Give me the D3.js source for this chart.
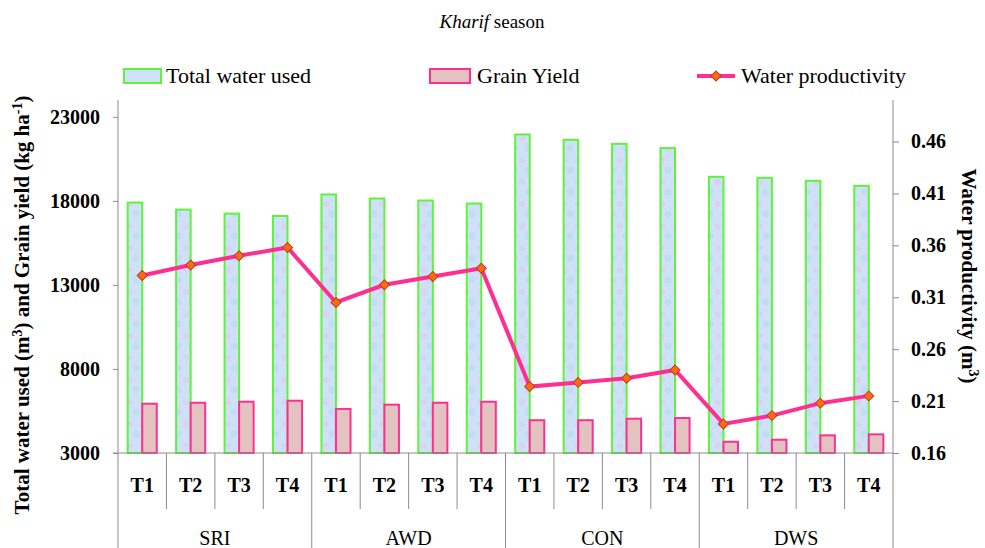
<!DOCTYPE html>
<html>
<head>
<meta charset="utf-8">
<script src="https://cdn.jsdelivr.net/npm/d3@7"></script>
<style>
  body { margin: 0; background: #fff; }
</style>
</head>
<body>
<div id="chart"></div>
<script>
// values
const groups = ["SRI", "AWD", "CON", "DWS"];
const treatments = ["T1", "T2", "T3", "T4"];
const waterUsed = [17900, 17480, 17240, 17100, 18380, 18140, 18020, 17840,
                   21950, 21630, 21390, 21140, 19430, 19370, 19190, 18890];
const grainYield = [5930, 5990, 6050, 6110, 5620, 5875, 5990, 6050,
                    4950, 4950, 5040, 5080, 3670, 3790, 4050, 4110];
const waterProductivity = [0.331, 0.341, 0.350, 0.358, 0.305, 0.322, 0.330, 0.338,
                           0.224, 0.228, 0.232, 0.240, 0.188, 0.196, 0.208, 0.215];
const leftTicks = [3000, 8000, 13000, 18000, 23000];
const rightTicks = [0.16, 0.21, 0.26, 0.31, 0.36, 0.41, 0.46];

const width = 985, height = 548;
const plotLeft = 118, plotRight = 893, plotTop = 100, base = 453;
const serif = "'Liberation Serif', 'Times New Roman', serif";

// one row per bar cluster
const rows = [];
groups.forEach((g, gi) => treatments.forEach((t, ti) => {
  const i = gi * treatments.length + ti;
  rows.push({ key: g + "-" + t, group: g, t: t, water: waterUsed[i], grain: grainYield[i], wp: waterProductivity[i] });
}));

const svg = d3.select("#chart").append("svg")
  .attr("width", width)
  .attr("height", height)
  .style("font-family", serif);

// faint mottled fill like the original bar texture
const defs = svg.append("defs");
const pat = defs.append("pattern").attr("id", "waterFill")
  .attr("patternUnits", "userSpaceOnUse").attr("width", 14).attr("height", 22);
pat.append("rect").attr("width", 14).attr("height", 22).attr("fill", "#cfe1f7");
pat.append("circle").attr("cx", 4).attr("cy", 6).attr("r", 3).attr("fill", "#d9d3f3");
pat.append("circle").attr("cx", 10).attr("cy", 16).attr("r", 3.5).attr("fill", "#c4dbf5");

const x = d3.scaleBand().domain(rows.map(d => d.key)).range([plotLeft, plotRight]).padding(0);
const bw = x.bandwidth();
const x1 = d3.scaleBand().domain(["water", "grain"]).range([bw * 0.2, bw * 0.8]).padding(0);
const yL = d3.scaleLinear().domain([3000, 24000]).range([base, plotTop]);
const yR = d3.scaleLinear().domain([0.16, 0.50]).range([base, plotTop]);

const axisColor = "#8c8c8c";

// title
const title = svg.append("text")
  .attr("x", 492).attr("y", 28)
  .attr("text-anchor", "middle")
  .style("font-family", serif)
  .style("font-size", "19px");
title.append("tspan").style("font-style", "italic").text("Kharif");
title.append("tspan").text(" season");

// bars
const bars = svg.append("g");
bars.selectAll("rect.water")
  .data(rows)
  .enter().append("rect")
    .attr("class", "water")
    .attr("x", d => x(d.key) + x1("water"))
    .attr("y", d => yL(d.water))
    .attr("width", x1.bandwidth())
    .attr("height", d => base - yL(d.water))
    .style("fill", "url(#waterFill)")
    .style("stroke", "#5cf53a")
    .style("stroke-width", 2);
bars.selectAll("rect.grain")
  .data(rows)
  .enter().append("rect")
    .attr("class", "grain")
    .attr("x", d => x(d.key) + x1("grain"))
    .attr("y", d => yL(d.grain))
    .attr("width", x1.bandwidth())
    .attr("height", d => base - yL(d.grain))
    .style("fill", "#e4c2c2")
    .style("stroke", "#ff2f92")
    .style("stroke-width", 2);

// left axis
const axL = svg.append("g")
  .attr("transform", `translate(${plotLeft},0)`)
  .call(d3.axisLeft(yL).tickValues(leftTicks).tickSize(5).tickPadding(13).tickFormat(d3.format("d")));
axL.select(".domain").remove();
axL.selectAll("line").attr("stroke", axisColor);
axL.selectAll("text")
  .style("font-family", serif)
  .style("font-size", "20px").style("font-weight", "bold").attr("fill", "#000");
svg.append("line").attr("x1", plotLeft).attr("x2", plotLeft).attr("y1", plotTop).attr("y2", height)
  .attr("stroke", axisColor);

// right axis
const axR = svg.append("g")
  .attr("transform", `translate(${plotRight},0)`)
  .call(d3.axisRight(yR).tickValues(rightTicks).tickSize(6).tickPadding(12).tickFormat(d3.format(".2f")));
axR.select(".domain").remove();
axR.selectAll("line").attr("stroke", axisColor);
axR.selectAll("text")
  .style("font-family", serif)
  .style("font-size", "20px").style("font-weight", "bold").attr("fill", "#000");
svg.append("line").attr("x1", plotRight).attr("x2", plotRight).attr("y1", plotTop).attr("y2", height)
  .attr("stroke", axisColor);

// category axis: base line, dividers, labels
svg.append("line").attr("x1", plotLeft - 5).attr("x2", plotRight).attr("y1", base).attr("y2", base)
  .attr("stroke", axisColor);
svg.append("g").selectAll("line")
  .data(rows.slice(1))
  .enter().append("line")
    .attr("x1", d => x(d.key)).attr("x2", d => x(d.key))
    .attr("y1", base)
    .attr("y2", d => d.t === "T1" ? height : 509)
    .attr("stroke", axisColor);
svg.append("g").selectAll("text")
  .data(rows)
  .enter().append("text")
    .attr("x", d => x(d.key) + bw / 2)
    .attr("y", 492)
    .attr("text-anchor", "middle")
    .style("font-family", serif)
    .style("font-size", "20px").style("font-weight", "bold")
    .text(d => d.t);
svg.append("g").selectAll("text")
  .data(groups)
  .enter().append("text")
    .attr("x", g => (x(g + "-T1") + x(g + "-T4") + bw) / 2)
    .attr("y", 545)
    .attr("text-anchor", "middle")
    .style("font-family", serif)
    .style("font-size", "20px")
    .text(g => g);

// water productivity line
const line = d3.line().x(d => x(d.key) + bw / 2).y(d => yR(d.wp));
svg.append("path")
  .datum(rows)
  .attr("d", line)
  .style("fill", "none")
  .style("stroke", "#ff2f92")
  .style("stroke-width", 4);
const diamond = d3.symbol().type(d3.symbolSquare).size(50);
svg.append("g").selectAll("path")
  .data(rows)
  .enter().append("path")
    .attr("d", diamond)
    .attr("transform", d => `translate(${x(d.key) + bw / 2},${yR(d.wp)}) rotate(45)`)
    .style("fill", "#ff6a10")
    .style("stroke", "#c0392b")
    .style("stroke-width", 1);

// axis titles
const lt = svg.append("text")
  .attr("transform", "translate(29,305) rotate(-90)")
  .attr("text-anchor", "middle")
  .style("font-family", serif)
  .style("font-size", "21px").style("font-weight", "bold");
lt.append("tspan").text("Total water used (m");
lt.append("tspan").attr("dy", -7).style("font-size", "14px").text("3");
lt.append("tspan").attr("dy", 7).text(") and Grain yield (kg ha");
lt.append("tspan").attr("dy", -7).style("font-size", "14px").text("-1");
lt.append("tspan").attr("dy", 7).text(")");

const rt = svg.append("text")
  .attr("transform", "translate(962,276) rotate(90)")
  .attr("text-anchor", "middle")
  .style("font-family", serif)
  .style("font-size", "21px").style("font-weight", "bold");
rt.append("tspan").text("Water productivity (m");
rt.append("tspan").attr("dy", -7).style("font-size", "14px").text("3");
rt.append("tspan").attr("dy", 7).text(")");

// legend
const legend = svg.append("g").style("font-family", serif);
legend.append("rect").attr("x", 124).attr("y", 69).attr("width", 37).attr("height", 14)
  .style("fill", "#d0e1f7").style("stroke", "#5cf53a").style("stroke-width", 2);
legend.append("text").attr("x", 166).attr("y", 83).style("font-size", "22px").text("Total water used");
legend.append("rect").attr("x", 430).attr("y", 69).attr("width", 40).attr("height", 14)
  .style("fill", "#e4c2c2").style("stroke", "#ff2f92").style("stroke-width", 2);
legend.append("text").attr("x", 477).attr("y", 83).style("font-size", "22px").text("Grain Yield");
legend.append("line").attr("x1", 697).attr("x2", 735).attr("y1", 76).attr("y2", 76)
  .style("stroke", "#ff2f92").style("stroke-width", 4);
legend.append("path").attr("d", diamond).attr("transform", "translate(716,76) rotate(45)")
  .style("fill", "#ff6a10").style("stroke", "#c0392b");
legend.append("text").attr("x", 741).attr("y", 83).style("font-size", "22px").text("Water productivity");
</script>
</body>
</html>
